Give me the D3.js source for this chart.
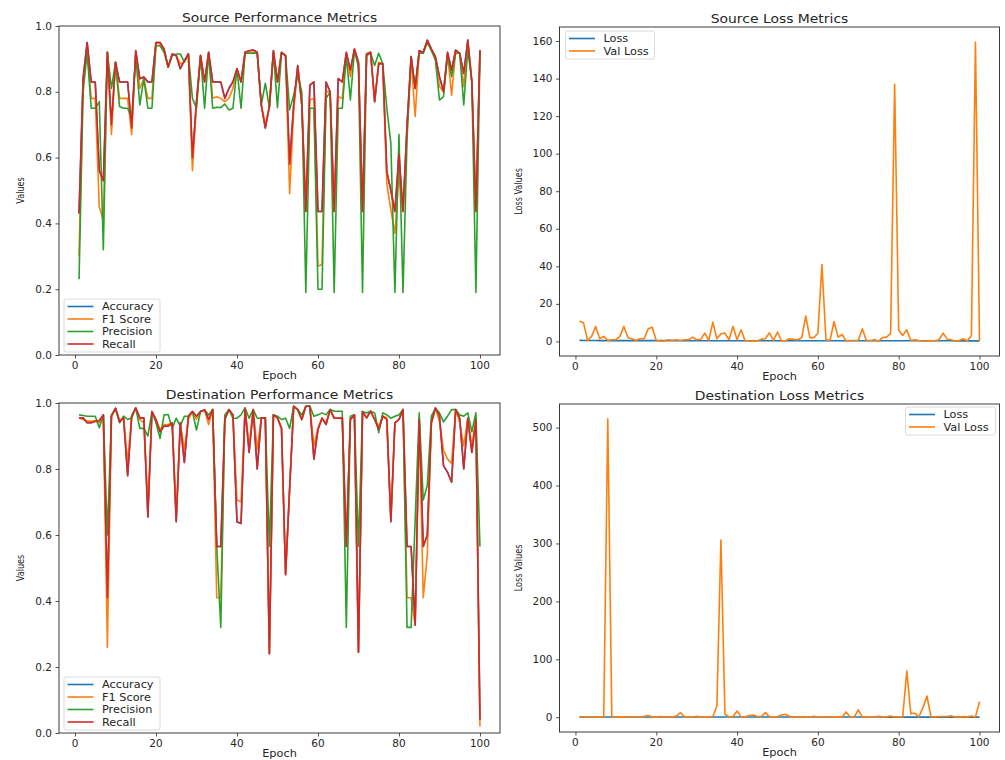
<!DOCTYPE html>
<html>
<head>
<meta charset="utf-8">
<script src="https://cdn.jsdelivr.net/npm/d3@7"></script>
<style>
  html, body { margin: 0; padding: 0; background: #fff; }
  svg { display: block; font-family: "DejaVu Sans", sans-serif; }
</style>
</head>
<body>
<svg id="chart" width="1005" height="760"></svg>
<script>
// Training history: 100 epochs for the source and destination models.
const epochs = d3.range(1, 101);

const srcRecall = [0.43,0.84,0.95,0.83,0.83,0.56,0.53,0.92,0.70,0.89,
  0.83,0.83,0.83,0.69,0.925,0.84,0.845,0.83,0.83,0.95,
  0.95,0.93,0.875,0.915,0.91,0.87,0.895,0.915,0.60,0.77,
  0.91,0.83,0.92,0.83,0.83,0.83,0.78,0.81,0.83,0.87,
  0.83,0.92,0.925,0.927,0.92,0.76,0.69,0.755,0.925,0.83,
  0.92,0.91,0.58,0.76,0.88,0.76,0.436,0.82,0.83,0.436,
  0.436,0.83,0.80,0.436,0.84,0.83,0.92,0.866,0.93,0.89,
  0.436,0.915,0.92,0.77,0.886,0.885,0.557,0.50,0.436,0.61,
  0.436,0.70,0.907,0.81,0.925,0.92,0.957,0.93,0.907,0.846,
  0.80,0.92,0.866,0.927,0.917,0.856,0.957,0.83,0.436,0.927];
const srcAccuracy = [0.43,0.84,0.95,0.83,0.83,0.56,0.53,0.92,0.70,0.89,
  0.83,0.83,0.83,0.69,0.925,0.84,0.845,0.83,0.83,0.95,
  0.95,0.93,0.875,0.915,0.91,0.87,0.895,0.915,0.60,0.77,
  0.91,0.83,0.92,0.83,0.83,0.83,0.78,0.81,0.83,0.87,
  0.83,0.92,0.925,0.927,0.92,0.76,0.69,0.755,0.925,0.83,
  0.92,0.91,0.58,0.76,0.88,0.76,0.436,0.82,0.83,0.436,
  0.436,0.83,0.80,0.436,0.84,0.83,0.92,0.866,0.93,0.89,
  0.436,0.915,0.92,0.77,0.886,0.885,0.557,0.50,0.436,0.61,
  0.436,0.70,0.907,0.81,0.925,0.92,0.957,0.93,0.907,0.846,
  0.80,0.92,0.866,0.927,0.917,0.856,0.957,0.83,0.436,0.927];
const srcF1 = [0.30,0.83,0.93,0.78,0.78,0.45,0.41,0.92,0.67,0.89,
  0.78,0.78,0.78,0.67,0.92,0.81,0.84,0.78,0.78,0.95,
  0.945,0.925,0.875,0.913,0.91,0.885,0.89,0.915,0.56,0.76,
  0.91,0.83,0.92,0.78,0.785,0.78,0.77,0.78,0.81,0.87,
  0.83,0.92,0.92,0.92,0.917,0.76,0.70,0.755,0.92,0.83,
  0.92,0.91,0.49,0.74,0.875,0.78,0.44,0.775,0.78,0.27,
  0.275,0.80,0.80,0.436,0.785,0.78,0.915,0.846,0.93,0.885,
  0.436,0.915,0.92,0.77,0.89,0.885,0.52,0.44,0.37,0.55,
  0.436,0.68,0.90,0.725,0.92,0.92,0.955,0.93,0.90,0.816,
  0.80,0.915,0.79,0.925,0.917,0.816,0.95,0.83,0.436,0.925];
const srcPrecision = [0.23,0.80,0.92,0.75,0.75,0.77,0.32,0.92,0.81,0.89,
  0.755,0.75,0.75,0.72,0.91,0.76,0.84,0.75,0.75,0.94,
  0.94,0.92,0.875,0.91,0.915,0.915,0.89,0.915,0.78,0.75,
  0.91,0.75,0.917,0.75,0.753,0.752,0.763,0.745,0.75,0.87,
  0.75,0.917,0.917,0.917,0.917,0.76,0.826,0.752,0.92,0.752,
  0.917,0.91,0.745,0.79,0.85,0.80,0.19,0.75,0.75,0.20,
  0.20,0.78,0.80,0.19,0.75,0.75,0.91,0.775,0.925,0.876,
  0.19,0.91,0.917,0.88,0.917,0.885,0.75,0.643,0.19,0.67,
  0.19,0.66,0.907,0.81,0.917,0.917,0.95,0.925,0.897,0.775,
  0.785,0.91,0.846,0.917,0.917,0.76,0.93,0.83,0.19,0.917];

const dstRecall = [0.954,0.955,0.94,0.94,0.945,0.947,0.964,0.41,0.96,0.984,
  0.943,0.955,0.78,0.96,0.985,0.955,0.955,0.655,0.974,0.95,
  0.913,0.93,0.93,0.94,0.64,0.94,0.82,0.96,0.974,0.96,
  0.974,0.979,0.95,0.98,0.565,0.565,0.95,0.98,0.964,0.64,
  0.635,0.984,0.85,0.98,0.80,0.955,0.955,0.24,0.964,0.955,
  0.923,0.48,0.74,0.99,0.98,0.95,0.99,0.99,0.83,0.92,
  0.954,0.935,0.98,0.954,0.954,0.955,0.565,0.95,0.964,0.245,
  0.974,0.955,0.975,0.95,0.92,0.96,0.95,0.64,0.94,0.95,
  0.98,0.565,0.565,0.327,0.95,0.565,0.60,0.94,0.985,0.96,
  0.81,0.79,0.76,0.98,0.954,0.80,0.954,0.85,0.95,0.04];
const dstAccuracy = [0.954,0.955,0.94,0.94,0.945,0.947,0.964,0.41,0.96,0.984,
  0.943,0.955,0.78,0.96,0.985,0.955,0.955,0.655,0.974,0.95,
  0.913,0.93,0.93,0.94,0.64,0.94,0.82,0.96,0.974,0.96,
  0.974,0.979,0.95,0.98,0.565,0.565,0.95,0.98,0.964,0.64,
  0.635,0.984,0.85,0.98,0.80,0.955,0.955,0.24,0.964,0.955,
  0.923,0.48,0.74,0.99,0.98,0.95,0.99,0.99,0.83,0.92,
  0.954,0.935,0.98,0.954,0.954,0.955,0.565,0.95,0.964,0.245,
  0.974,0.955,0.975,0.95,0.92,0.96,0.95,0.64,0.94,0.95,
  0.98,0.565,0.565,0.327,0.95,0.565,0.60,0.94,0.985,0.96,
  0.81,0.79,0.76,0.98,0.954,0.80,0.954,0.85,0.95,0.04];
const dstF1 = [0.955,0.95,0.945,0.945,0.945,0.94,0.964,0.26,0.96,0.984,
  0.948,0.955,0.82,0.96,0.985,0.95,0.94,0.69,0.974,0.95,
  0.92,0.935,0.935,0.94,0.66,0.935,0.86,0.95,0.974,0.95,
  0.974,0.979,0.935,0.98,0.41,0.41,0.955,0.98,0.964,0.706,
  0.70,0.984,0.87,0.98,0.86,0.955,0.955,0.24,0.964,0.955,
  0.923,0.48,0.74,0.99,0.98,0.95,0.99,0.99,0.87,0.925,
  0.954,0.94,0.98,0.954,0.954,0.955,0.565,0.95,0.964,0.245,
  0.974,0.955,0.975,0.95,0.93,0.96,0.955,0.655,0.94,0.95,
  0.98,0.41,0.41,0.327,0.95,0.41,0.54,0.94,0.985,0.945,
  0.857,0.83,0.817,0.98,0.94,0.87,0.954,0.87,0.955,0.02];
const dstPrecision = [0.964,0.962,0.96,0.96,0.96,0.925,0.964,0.60,0.963,0.984,
  0.94,0.96,0.95,0.955,0.985,0.923,0.923,0.90,0.974,0.94,
  0.893,0.964,0.965,0.923,0.954,0.93,0.96,0.96,0.974,0.918,
  0.974,0.979,0.964,0.98,0.565,0.32,0.964,0.98,0.954,0.954,
  0.964,0.985,0.954,0.98,0.954,0.954,0.953,0.565,0.964,0.96,
  0.95,0.954,0.923,0.99,0.98,0.964,0.99,0.99,0.96,0.964,
  0.97,0.964,0.98,0.975,0.975,0.975,0.32,0.96,0.964,0.565,
  0.974,0.97,0.975,0.97,0.91,0.97,0.964,0.954,0.96,0.964,
  0.98,0.32,0.32,0.645,0.97,0.706,0.75,0.96,0.984,0.97,
  0.943,0.96,0.98,0.98,0.964,0.96,0.97,0.913,0.97,0.565];

const srcLoss = [0.58,0.52,0.49,0.47,0.46,0.45,0.45,0.44,0.44,0.43,
  0.43,0.43,0.42,0.42,0.42,0.41,0.41,0.41,0.41,0.40,
  0.40,0.40,0.40,0.40,0.39,0.39,0.39,0.39,0.39,0.39,
  0.38,0.38,0.38,0.38,0.38,0.38,0.38,0.37,0.37,0.37,
  0.37,0.37,0.37,0.37,0.36,0.36,0.36,0.36,0.36,0.36,
  0.36,0.36,0.35,0.35,0.35,0.35,0.35,0.35,0.35,0.35,
  0.35,0.34,0.34,0.34,0.34,0.34,0.34,0.34,0.34,0.34,
  0.34,0.33,0.33,0.33,0.33,0.33,0.33,0.33,0.33,0.33,
  0.33,0.33,0.32,0.32,0.32,0.32,0.32,0.32,0.32,0.32,
  0.32,0.32,0.32,0.31,0.31,0.31,0.31,0.31,0.31,0.31];
const srcValLoss = [10.8,9.9,0.5,2.7,8.0,1.4,2.7,0.5,0.9,0.9,
  2.7,8.0,2.0,1.4,0.5,1.4,1.4,6.7,7.6,0.5,
  0.2,0.2,0.9,0.5,0.9,0.5,0.9,0.9,2.3,0.9,
  1.1,4.4,0.5,10.3,1.4,4.1,4.4,0.9,8.0,0.9,
  6.2,0.2,0.2,0.2,0.2,1.2,1.4,4.6,0.5,5.0,
  0.2,0.5,1.4,1.1,0.9,2.0,13.5,2.0,2.0,4.4,
  41.0,0.9,0.5,10.6,2.3,3.7,0.2,0.5,0.5,0.5,
  6.7,0.5,0.5,0.9,0.2,2.0,2.3,4.1,137.0,5.9,
  3.2,6.2,0.5,0.9,0.5,0.2,0.2,0.5,0.2,0.9,
  4.4,1.2,0.9,0.2,0.5,1.4,0.2,3.2,159.5,0.2];

const dstLoss = [0.62,0.55,0.51,0.49,0.47,0.46,0.45,0.44,0.43,0.42,
  0.42,0.41,0.41,0.40,0.40,0.39,0.39,0.39,0.38,0.38,
  0.38,0.37,0.37,0.37,0.37,0.36,0.36,0.36,0.36,0.35,
  0.35,0.35,0.35,0.35,0.34,0.34,0.34,0.34,0.34,0.33,
  0.33,0.33,0.33,0.33,0.33,0.32,0.32,0.32,0.32,0.32,
  0.32,0.31,0.31,0.31,0.31,0.31,0.31,0.31,0.30,0.30,
  0.30,0.30,0.30,0.30,0.30,0.30,0.29,0.29,0.29,0.29,
  0.29,0.29,0.29,0.29,0.29,0.28,0.28,0.28,0.28,0.28,
  0.28,0.28,0.28,0.28,0.28,0.27,0.27,0.27,0.27,0.27,
  0.27,0.27,0.27,0.27,0.27,0.27,0.26,0.26,0.26,0.26];
const dstValLoss = [0.5,0.5,0.5,0.5,0.5,0.5,0.6,515.0,0.5,0.4,
  0.6,0.8,0.5,0.4,0.5,0.9,1.8,2.9,0.6,0.5,
  1.2,0.6,0.5,0.6,2.1,8.2,0.7,0.6,0.5,1.8,
  0.6,0.5,0.7,0.8,19.5,306.0,5.1,0.5,1.2,10.9,
  0.6,0.5,3.1,4.0,1.4,1.2,8.0,1.1,0.5,1.3,
  4.0,5.2,1.2,0.6,0.5,0.6,0.7,0.5,1.7,0.6,
  0.5,0.5,0.6,0.5,0.6,0.5,9.2,0.6,0.5,12.6,
  0.5,0.6,0.5,0.6,1.7,0.5,0.6,2.3,0.5,0.6,
  0.5,79.6,6.3,6.9,0.5,16.6,36.7,0.5,0.6,1.2,
  1.3,1.2,2.3,0.6,0.5,1.1,0.6,2.0,0.5,26.9];

const perfLabels = ["Accuracy", "F1 Score", "Precision", "Recall"];
const lossLabels = ["Loss", "Val Loss"];
const xTicks = [0, 20, 40, 60, 80, 100];
const perfTicks = [0.0, 0.2, 0.4, 0.6, 0.8, 1.0];
const srcLossTicks = [0, 20, 40, 60, 80, 100, 120, 140, 160];
const dstLossTicks = [0, 100, 200, 300, 400, 500];

const colors = ["#1f77b4", "#ff7f0e", "#2ca02c", "#d62728"];
const ink = "#262626";

const svg = d3.select("#chart");

// Text drawn with a slight horizontal stretch, as in the exported figure.
function label(parent, x, y, str, opts) {
  const o = Object.assign({ size: 10, anchor: "start", sx: 1.1, sy: 1, rotate: 0 }, opts);
  const g = parent.append("g")
    .attr("transform", `translate(${x},${y}) rotate(${o.rotate}) scale(${o.sx},${o.sy})`);
  g.append("text")
    .attr("text-anchor", o.anchor)
    .attr("font-size", o.size)
    .attr("fill", ink)
    .text(str);
  return g;
}

function autoDomain(arrays) {
  const lo = d3.min(arrays, a => d3.min(a));
  const hi = d3.max(arrays, a => d3.max(a));
  const pad = (hi - lo) * 0.05;
  return [lo - pad, hi + pad];
}

function panel(cfg) {
  const { left, top, right, bottom } = cfg.box;
  const g = svg.append("g");

  const x = d3.scaleLinear().domain([-3.95, 104.95]).range([left, right]);
  const y = d3.scaleLinear().domain(cfg.yDomain).range([bottom, top]);

  // series
  const line = d3.line().x((d, i) => x(epochs[i])).y(d => y(d));
  cfg.series.forEach((s, i) => {
    g.append("path")
      .datum(s.values)
      .attr("fill", "none")
      .attr("stroke", s.color)
      .attr("stroke-width", 1.6)
      .attr("stroke-linejoin", "round")
      .attr("d", line);
  });

  // axes
  const xAxis = d3.axisBottom(x).tickValues(xTicks).tickSize(3.5).tickFormat(d3.format("d"));
  const yAxis = d3.axisLeft(y).tickValues(cfg.yTicks).tickSize(3.5).tickFormat(cfg.yFormat);
  const gx = g.append("g").attr("transform", `translate(0,${bottom})`).call(xAxis);
  const gy = g.append("g").attr("transform", `translate(${left},0)`).call(yAxis);
  [gx, gy].forEach(a => {
    a.select(".domain").remove();
    a.selectAll(".tick line").attr("stroke", ink).attr("stroke-width", 0.8);
    a.selectAll(".tick text").remove();
  });
  xTicks.forEach(t => label(g, x(t), bottom + 13.5, String(t), { anchor: "middle", sx: 1.05 }));
  cfg.yTicks.forEach(t => label(g, left - 7, y(t) + 3.6, cfg.yFormat(t), { anchor: "end", sx: 1.05 }));

  // frame
  g.append("rect")
    .attr("x", left).attr("y", top)
    .attr("width", right - left).attr("height", bottom - top)
    .attr("fill", "none").attr("stroke", ink).attr("stroke-width", 0.9);

  // titles
  label(g, (left + right) / 2, top - 4.5, cfg.title, { anchor: "middle", size: 12, sx: 1.16 });
  label(g, (left + right) / 2, bottom + 24, "Epoch", { anchor: "middle", sx: 1.13 });
  label(g, cfg.ylabelX, (top + bottom) / 2, cfg.ylabel, { anchor: "middle", rotate: -90, sx: 0.81 });

  // legend
  const n = cfg.series.length;
  const lw = cfg.legendWidth, lh = 3 + n * 12.5;
  let lx, ly;
  if (cfg.legend === "lower left") { lx = left + 5; ly = bottom - 3 - lh; }
  if (cfg.legend === "upper left") { lx = left + 6; ly = top + 4; }
  if (cfg.legend === "upper right") { lx = right - 4 - lw; ly = top + 3; }
  const lg = g.append("g");
  lg.append("rect")
    .attr("x", lx).attr("y", ly).attr("width", lw).attr("height", lh)
    .attr("rx", 2).attr("fill", "#fff").attr("fill-opacity", 0.8)
    .attr("stroke", "#d0d0d0").attr("stroke-width", 0.8);
  cfg.series.forEach((s, i) => {
    const ry = ly + 7.5 + i * 12.5;
    lg.append("line")
      .attr("x1", lx + 3.5).attr("x2", lx + 29.5)
      .attr("y1", ry).attr("y2", ry)
      .attr("stroke", s.color).attr("stroke-width", 1.6);
    label(lg, lx + 38, ry + 3.6, s.name, { sx: 1.13 });
  });
}

const fmt1 = d3.format(".1f");
const fmt0 = d3.format("d");

panel({
  box: { left: 59, top: 26, right: 500, bottom: 355 },
  yDomain: [0, 1], yTicks: perfTicks, yFormat: fmt1,
  title: "Source Performance Metrics", ylabel: "Values", ylabelX: 24,
  legend: "lower left", legendWidth: 96,
  series: [srcAccuracy, srcF1, srcPrecision, srcRecall].map((v, i) => ({ name: perfLabels[i], values: v, color: colors[i] }))
});

panel({
  box: { left: 559.5, top: 27, right: 999.5, bottom: 356 },
  yDomain: autoDomain([srcLoss, srcValLoss]), yTicks: srcLossTicks, yFormat: fmt0,
  title: "Source Loss Metrics", ylabel: "Loss Values", ylabelX: 521.5,
  legend: "upper left", legendWidth: 89,
  series: [srcLoss, srcValLoss].map((v, i) => ({ name: lossLabels[i], values: v, color: colors[i] }))
});

panel({
  box: { left: 59, top: 403, right: 500, bottom: 733 },
  yDomain: [0, 1], yTicks: perfTicks, yFormat: fmt1,
  title: "Destination Performance Metrics", ylabel: "Values", ylabelX: 24,
  legend: "lower left", legendWidth: 96,
  series: [dstAccuracy, dstF1, dstPrecision, dstRecall].map((v, i) => ({ name: perfLabels[i], values: v, color: colors[i] }))
});

panel({
  box: { left: 559.5, top: 404, right: 999.5, bottom: 732 },
  yDomain: autoDomain([dstLoss, dstValLoss]), yTicks: dstLossTicks, yFormat: fmt0,
  title: "Destination Loss Metrics", ylabel: "Loss Values", ylabelX: 521.5,
  legend: "upper right", legendWidth: 90,
  series: [dstLoss, dstValLoss].map((v, i) => ({ name: lossLabels[i], values: v, color: colors[i] }))
});
</script>
</body>
</html>
